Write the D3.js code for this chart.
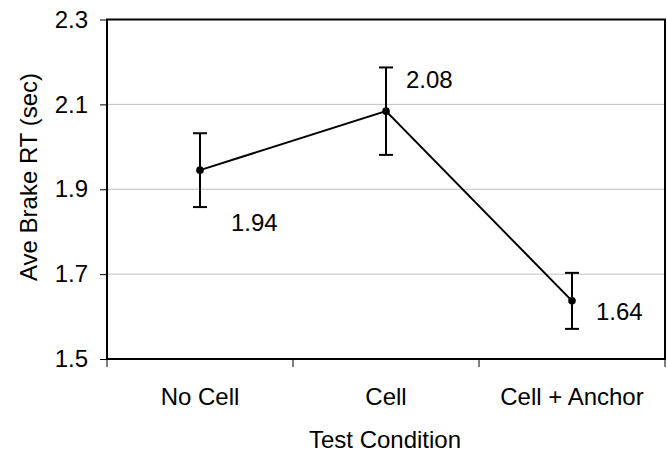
<!DOCTYPE html>
<html><head><meta charset="utf-8">
<script src="https://cdn.jsdelivr.net/npm/d3@7"></script>
<style>body{margin:0;background:#fff}svg{display:block}text{font-family:"Liberation Sans",Arial,sans-serif;fill:#000}</style>
</head><body><svg id="c" width="667" height="452"></svg>
<script>
const categories = ["No Cell", "Cell", "Cell + Anchor"];
const means = [1.945, 2.084, 1.637];
const errors = [0.087, 0.103, 0.066];
const labels = ["1.94", "2.08", "1.64"];
const yTicks = [1.5, 1.7, 1.9, 2.1, 2.3];
const yTitle = "Ave Brake RT (sec)";
const xTitle = "Test Condition";

const svg = d3.select("#c");
const L = 107, R = 665, T = 19.5, B = 359;
const x = d3.scaleBand().domain(categories).range([L, R]);
const y = d3.scaleLinear().domain([1.5, 2.3]).range([B, T]);
const fs = 24;

// gridlines
svg.append("g").selectAll("line").data(yTicks.slice(1, -1)).join("line")
  .attr("x1", L).attr("x2", R).attr("y1", d => y(d)).attr("y2", d => y(d))
  .attr("stroke", "#c0c0c0").attr("stroke-width", 1);

// frame
svg.append("rect").attr("x", L).attr("y", T).attr("width", R - L).attr("height", B - T)
  .attr("fill", "none").attr("stroke", "#000").attr("stroke-width", 2);

// y axis
const ya = svg.append("g").attr("transform", `translate(${L},0)`)
  .call(d3.axisLeft(y).tickValues(yTicks).tickFormat(d3.format(".1f")).tickSize(7).tickPadding(12));
ya.select(".domain").remove();
ya.selectAll("line").attr("stroke", "#000").attr("stroke-width", 1);
ya.selectAll("text").attr("font-size", fs).attr("font-family", "Liberation Sans, Arial, sans-serif");

// x axis ticks at boundaries
const bounds = categories.map(c => x(c)).concat([R]);
svg.append("g").selectAll("line").data(bounds).join("line")
  .attr("x1", d => d).attr("x2", d => d).attr("y1", B).attr("y2", B + 8)
  .attr("stroke", "#000").attr("stroke-width", 1);
svg.append("g").selectAll("text").data(categories).join("text")
  .attr("x", d => x(d) + x.bandwidth() / 2).attr("y", 405)
  .attr("text-anchor", "middle").attr("font-size", fs).text(d => d);

// titles
svg.append("text").attr("x", (L + R) / 2 - 1).attr("y", 448).attr("text-anchor", "middle")
  .attr("font-size", fs).text(xTitle);
svg.append("text").attr("transform", "translate(37,177) rotate(-90)").attr("text-anchor", "middle")
  .attr("font-size", fs).text(yTitle);

const cx = i => x(categories[i]) + x.bandwidth() / 2;
const idx = d3.range(categories.length);

// error bars
const eb = svg.append("g").attr("stroke", "#000").attr("stroke-width", 2);
eb.selectAll(".v").data(idx).join("line")
  .attr("x1", cx).attr("x2", cx)
  .attr("y1", i => y(means[i] + errors[i])).attr("y2", i => y(means[i] - errors[i]));
eb.selectAll(".t").data(idx).join("line")
  .attr("x1", i => cx(i) - 7).attr("x2", i => cx(i) + 7)
  .attr("y1", i => y(means[i] + errors[i])).attr("y2", i => y(means[i] + errors[i]));
eb.selectAll(".b").data(idx).join("line")
  .attr("x1", i => cx(i) - 7).attr("x2", i => cx(i) + 7)
  .attr("y1", i => y(means[i] - errors[i])).attr("y2", i => y(means[i] - errors[i]));

// line
svg.append("path").datum(idx)
  .attr("d", d3.line().x(cx).y(i => y(means[i])))
  .attr("fill", "none").attr("stroke", "#000").attr("stroke-width", 2);

// points
svg.append("g").selectAll("circle").data(idx).join("circle")
  .attr("cx", cx).attr("cy", i => y(means[i])).attr("r", 3.8).attr("fill", "#000");

// data labels
const lx = [31, 20, 24], ly = [61, -23, 19];
svg.append("g").selectAll("text").data(idx).join("text")
  .attr("x", i => cx(i) + lx[i]).attr("y", i => y(means[i]) + ly[i])
  .attr("font-size", fs).text(i => labels[i]);
</script></body></html>
